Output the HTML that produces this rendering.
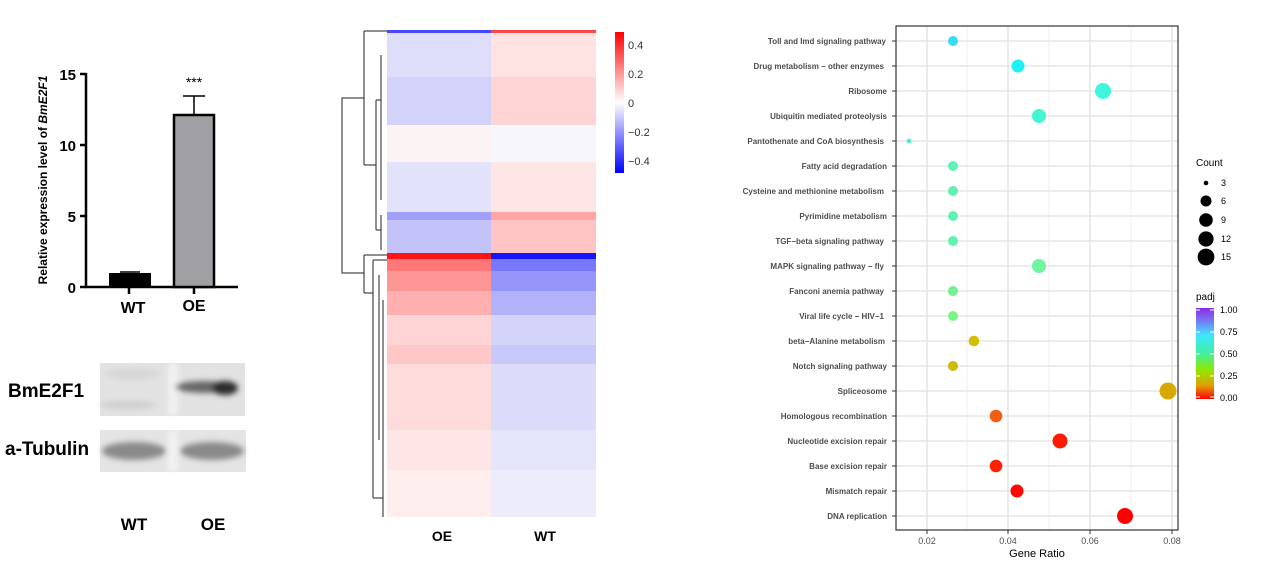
<!DOCTYPE html>
<html><head><meta charset="utf-8"><style>
html,body{margin:0;padding:0;background:#fff;}
svg{display:block;font-family:"Liberation Sans",Arial,sans-serif;}
</style></head><body>
<svg width="1269" height="572" viewBox="0 0 1269 572" xmlns="http://www.w3.org/2000/svg">
<defs>
<filter id="bl" x="-20%" y="-50%" width="140%" height="200%"><feGaussianBlur stdDeviation="3"/></filter>
<linearGradient id="cb" x1="0" y1="0" x2="0" y2="1">
<stop offset="0" stop-color="#ff0000"/><stop offset="0.5" stop-color="#ffffff"/><stop offset="1" stop-color="#0000ff"/></linearGradient>
<linearGradient id="pj" x1="0" y1="0" x2="0" y2="1">
<stop offset="0" stop-color="#8a2be2"/><stop offset="0.12" stop-color="#7a6cf0"/><stop offset="0.3" stop-color="#3fe6ff"/><stop offset="0.5" stop-color="#40f0a0"/><stop offset="0.68" stop-color="#90e800"/><stop offset="0.85" stop-color="#e0a000"/><stop offset="1" stop-color="#ff0000"/></linearGradient>
</defs>

<!-- Bar chart -->
<g stroke="#000" stroke-width="2.5" fill="none">
<line x1="86" y1="73" x2="86" y2="288"/>
<line x1="85" y1="287" x2="238" y2="287"/>
<line x1="80" y1="74" x2="86" y2="74"/><line x1="80" y1="145" x2="86" y2="145"/>
<line x1="80" y1="216" x2="86" y2="216"/><line x1="80" y1="287" x2="86" y2="287"/>
<line x1="129" y1="287" x2="129" y2="294"/><line x1="194" y1="287" x2="194" y2="294"/>
</g>
<rect x="109" y="273" width="42" height="14" fill="#000"/>
<line x1="120" y1="272" x2="140" y2="272" stroke="#000" stroke-width="1.5"/>
<rect x="174" y="115" width="40" height="172" fill="#a0a0a4" stroke="#000" stroke-width="2.5"/>
<line x1="194" y1="115" x2="194" y2="96" stroke="#000" stroke-width="1.5"/>
<line x1="183" y1="96" x2="205" y2="96" stroke="#000" stroke-width="1.5"/>
<text x="194" y="87" font-size="14" text-anchor="middle" fill="#000">***</text>
<g font-size="15" font-weight="bold" text-anchor="end" fill="#000">
<text x="76" y="80">15</text><text x="76" y="151">10</text><text x="76" y="222">5</text><text x="76" y="293">0</text></g>
<g font-size="16" font-weight="bold" text-anchor="middle" fill="#000">
<text x="133" y="313">WT</text><text x="194" y="311">OE</text></g>
<text transform="translate(47,180) rotate(-90)" font-size="12" font-weight="bold" text-anchor="middle" fill="#000">Relative expression level of <tspan font-style="italic">BmE2F1</tspan></text>

<!-- Western blot -->
<rect x="100" y="363" width="145" height="53" fill="#e2e2e2"/>
<rect x="100" y="430" width="146" height="42" fill="#e4e4e4"/>
<g filter="url(#bl)">
<rect x="168" y="364" width="10" height="51" fill="#f2f2f2"/>
<rect x="168" y="431" width="10" height="40" fill="#f2f2f2"/>
<ellipse cx="133" cy="374" rx="28" ry="5" fill="#d6d6d6"/>
<ellipse cx="128" cy="405" rx="28" ry="4" fill="#cecece"/>
<ellipse cx="205" cy="387" rx="30" ry="6" fill="#666"/>
<ellipse cx="225" cy="388" rx="13" ry="7" fill="#2a2a2a"/>
<ellipse cx="134" cy="451" rx="32" ry="9" fill="#8a8a8a"/>
<ellipse cx="212" cy="451" rx="32" ry="9" fill="#8a8a8a"/>
</g>
<g font-size="19" font-weight="bold" fill="#000">
<text x="8" y="397">BmE2F1</text><text x="5" y="455">a-Tubulin</text></g>
<g font-size="17" font-weight="bold" text-anchor="middle" fill="#000">
<text x="134" y="530">WT</text><text x="213" y="530">OE</text></g>

<!-- Heatmap -->
<g shape-rendering="crispEdges">
<rect x="387" y="30" width="104" height="3" fill="rgb(70,70,255)"/><rect x="491" y="30" width="105" height="3" fill="rgb(255,70,70)"/>
<rect x="387" y="33" width="104" height="44" fill="rgb(222,222,250)"/><rect x="491" y="33" width="105" height="44" fill="rgb(255,226,226)"/>
<rect x="387" y="77" width="104" height="48" fill="rgb(210,210,250)"/><rect x="491" y="77" width="105" height="48" fill="rgb(255,212,212)"/>
<rect x="387" y="125" width="104" height="37" fill="rgb(252,244,244)"/><rect x="491" y="125" width="105" height="37" fill="rgb(246,246,252)"/>
<rect x="387" y="162" width="104" height="50" fill="rgb(226,226,250)"/><rect x="491" y="162" width="105" height="50" fill="rgb(255,230,230)"/>
<rect x="387" y="212" width="104" height="8" fill="rgb(160,160,250)"/><rect x="491" y="212" width="105" height="8" fill="rgb(255,165,165)"/>
<rect x="387" y="220" width="104" height="33" fill="rgb(195,195,250)"/><rect x="491" y="220" width="105" height="33" fill="rgb(255,195,195)"/>
<rect x="387" y="253" width="104" height="6" fill="rgb(255,20,20)"/><rect x="491" y="253" width="105" height="6" fill="rgb(20,20,255)"/>
<rect x="387" y="259" width="104" height="12" fill="rgb(255,120,120)"/><rect x="491" y="259" width="105" height="12" fill="rgb(120,120,255)"/>
<rect x="387" y="271" width="104" height="20" fill="rgb(255,150,150)"/><rect x="491" y="271" width="105" height="20" fill="rgb(150,150,250)"/>
<rect x="387" y="291" width="104" height="24" fill="rgb(255,175,175)"/><rect x="491" y="291" width="105" height="24" fill="rgb(178,178,250)"/>
<rect x="387" y="315" width="104" height="30" fill="rgb(255,212,212)"/><rect x="491" y="315" width="105" height="30" fill="rgb(212,212,250)"/>
<rect x="387" y="345" width="104" height="19" fill="rgb(255,200,200)"/><rect x="491" y="345" width="105" height="19" fill="rgb(200,200,250)"/>
<rect x="387" y="364" width="104" height="66" fill="rgb(255,220,220)"/><rect x="491" y="364" width="105" height="66" fill="rgb(220,220,250)"/>
<rect x="387" y="430" width="104" height="40" fill="rgb(255,230,230)"/><rect x="491" y="430" width="105" height="40" fill="rgb(228,228,250)"/>
<rect x="387" y="470" width="104" height="47" fill="rgb(255,238,238)"/><rect x="491" y="470" width="105" height="47" fill="rgb(236,236,250)"/>
</g>
<!-- dendrogram -->
<g stroke="#222" stroke-width="1" fill="none">
<path d="M364,98 H342 V273 H364"/>
<path d="M364,31 V165 M364,31 H387 M364,165 H376"/>
<path d="M376,100 V230 M376,100 H381 M376,230 H381 M381,55 V200 M381,215 V250"/>
<path d="M364,255 V293 M364,255 H387 M364,293 H373"/>
<path d="M373,260 V498 M373,260 H387 M373,498 H383 M379,275 V440 M383,300 V517"/>
</g>
<g font-size="14" font-weight="bold" text-anchor="middle" fill="#000">
<text x="442" y="541">OE</text><text x="545" y="541">WT</text></g>
<rect x="615" y="32" width="9" height="141" fill="url(#cb)"/>
<g font-size="11" fill="#333">
<text x="628" y="49">0.4</text><text x="628" y="78">0.2</text><text x="628" y="107">0</text>
<text x="628" y="136">−0.2</text><text x="628" y="165">−0.4</text></g>

<!-- Dot plot -->
<rect x="896" y="26" width="282" height="504" fill="#fff"/>
<g stroke="#ebebeb" stroke-width="0.8">
<line x1="967" y1="26" x2="967" y2="530"/><line x1="1049" y1="26" x2="1049" y2="530"/><line x1="1131" y1="26" x2="1131" y2="530"/>
</g>
<g stroke="#e6e6e6" stroke-width="1.6">
<line x1="927" y1="26" x2="927" y2="530"/><line x1="1008" y1="26" x2="1008" y2="530"/><line x1="1090" y1="26" x2="1090" y2="530"/><line x1="1172" y1="26" x2="1172" y2="530"/>
<line x1="896" y1="41" x2="1178" y2="41"/><line x1="896" y1="66" x2="1178" y2="66"/><line x1="896" y1="91" x2="1178" y2="91"/><line x1="896" y1="116" x2="1178" y2="116"/><line x1="896" y1="141" x2="1178" y2="141"/><line x1="896" y1="166" x2="1178" y2="166"/><line x1="896" y1="191" x2="1178" y2="191"/><line x1="896" y1="216" x2="1178" y2="216"/><line x1="896" y1="241" x2="1178" y2="241"/><line x1="896" y1="266" x2="1178" y2="266"/><line x1="896" y1="291" x2="1178" y2="291"/><line x1="896" y1="316" x2="1178" y2="316"/><line x1="896" y1="341" x2="1178" y2="341"/><line x1="896" y1="366" x2="1178" y2="366"/><line x1="896" y1="391" x2="1178" y2="391"/><line x1="896" y1="416" x2="1178" y2="416"/><line x1="896" y1="441" x2="1178" y2="441"/><line x1="896" y1="466" x2="1178" y2="466"/><line x1="896" y1="491" x2="1178" y2="491"/><line x1="896" y1="516" x2="1178" y2="516"/>
</g>
<rect x="896" y="26" width="282" height="504" fill="none" stroke="#333" stroke-width="1.2"/>
<g stroke="#333" stroke-width="1">
<line x1="892" y1="41" x2="896" y2="41"/><line x1="892" y1="66" x2="896" y2="66"/><line x1="892" y1="91" x2="896" y2="91"/><line x1="892" y1="116" x2="896" y2="116"/><line x1="892" y1="141" x2="896" y2="141"/><line x1="892" y1="166" x2="896" y2="166"/><line x1="892" y1="191" x2="896" y2="191"/><line x1="892" y1="216" x2="896" y2="216"/><line x1="892" y1="241" x2="896" y2="241"/><line x1="892" y1="266" x2="896" y2="266"/><line x1="892" y1="291" x2="896" y2="291"/><line x1="892" y1="316" x2="896" y2="316"/><line x1="892" y1="341" x2="896" y2="341"/><line x1="892" y1="366" x2="896" y2="366"/><line x1="892" y1="391" x2="896" y2="391"/><line x1="892" y1="416" x2="896" y2="416"/><line x1="892" y1="441" x2="896" y2="441"/><line x1="892" y1="466" x2="896" y2="466"/><line x1="892" y1="491" x2="896" y2="491"/><line x1="892" y1="516" x2="896" y2="516"/>
<line x1="927" y1="530" x2="927" y2="534"/><line x1="1008" y1="530" x2="1008" y2="534"/><line x1="1090" y1="530" x2="1090" y2="534"/><line x1="1172" y1="530" x2="1172" y2="534"/>
</g>
<g font-size="8" font-weight="bold" fill="#4d4d4d" text-anchor="end">
<text x="886" y="44">Toll and Imd signaling pathway</text>
<text x="884" y="69">Drug metabolism − other enzymes</text>
<text x="887" y="94">Ribosome</text>
<text x="887" y="119">Ubiquitin mediated proteolysis</text>
<text x="884" y="144">Pantothenate and CoA biosynthesis</text>
<text x="887" y="169">Fatty acid degradation</text>
<text x="884" y="194">Cysteine and methionine metabolism</text>
<text x="887" y="219">Pyrimidine metabolism</text>
<text x="884" y="244">TGF−beta signaling pathway</text>
<text x="884" y="269">MAPK signaling pathway − fly</text>
<text x="884" y="294">Fanconi anemia pathway</text>
<text x="884" y="319">Viral life cycle − HIV−1</text>
<text x="885" y="344">beta−Alanine metabolism</text>
<text x="887" y="369">Notch signaling pathway</text>
<text x="887" y="394">Spliceosome</text>
<text x="887" y="419">Homologous recombination</text>
<text x="887" y="444">Nucleotide excision repair</text>
<text x="887" y="469">Base excision repair</text>
<text x="887" y="494">Mismatch repair</text>
<text x="887" y="519">DNA replication</text>
</g>
<g>
<circle cx="953" cy="41" r="5" fill="#36dcf5"/>
<circle cx="1018" cy="66" r="6.5" fill="#1ef0f5"/>
<circle cx="1103" cy="91" r="8" fill="#3ff5dc"/>
<circle cx="1039" cy="116" r="7" fill="#45f5d2"/>
<circle cx="909" cy="141" r="2.3" fill="#45f0d0"/>
<circle cx="953" cy="166" r="5" fill="#5ff2b5"/>
<circle cx="953" cy="191" r="5" fill="#5ff2b2"/>
<circle cx="953" cy="216" r="5" fill="#5ff2b2"/>
<circle cx="953" cy="241" r="5" fill="#60f2ae"/>
<circle cx="1039" cy="266" r="7" fill="#70f5a0"/>
<circle cx="953" cy="291" r="5" fill="#70f090"/>
<circle cx="953" cy="316" r="5" fill="#78f582"/>
<circle cx="974" cy="341" r="5.3" fill="#d2c000"/>
<circle cx="953" cy="366" r="5" fill="#d0b800"/>
<circle cx="1168" cy="391" r="8.5" fill="#d8a800"/>
<circle cx="996" cy="416" r="6.3" fill="#f06010"/>
<circle cx="1060" cy="441" r="7.5" fill="#ff1a00"/>
<circle cx="996" cy="466" r="6.3" fill="#ff2000"/>
<circle cx="1017" cy="491" r="6.5" fill="#ff0a00"/>
<circle cx="1125" cy="516" r="8" fill="#ff0000"/>
</g>
<g font-size="9" fill="#4d4d4d" text-anchor="middle">
<text x="927" y="544">0.02</text><text x="1008" y="544">0.04</text><text x="1090" y="544">0.06</text><text x="1172" y="544">0.08</text></g>
<text x="1037" y="557" font-size="11" fill="#000" text-anchor="middle">Gene Ratio</text>

<!-- legends -->
<g font-size="10" fill="#000">
<text x="1196" y="166">Count</text>
<text x="1196" y="300">padj</text></g>
<g fill="#000">
<circle cx="1206" cy="183" r="2.3"/><circle cx="1206" cy="201" r="5.5"/><circle cx="1206" cy="220" r="6.8"/><circle cx="1206" cy="239" r="7.6"/><circle cx="1206" cy="257" r="8.4"/></g>
<g font-size="9" fill="#000">
<text x="1221" y="186">3</text><text x="1221" y="204">6</text><text x="1221" y="223">9</text><text x="1221" y="242">12</text><text x="1221" y="260">15</text></g>
<rect x="1196" y="308" width="18" height="91" fill="url(#pj)"/>
<g stroke="#fff" stroke-width="1">
<line x1="1196" y1="310" x2="1200" y2="310"/><line x1="1210" y1="310" x2="1214" y2="310"/>
<line x1="1196" y1="332" x2="1200" y2="332"/><line x1="1210" y1="332" x2="1214" y2="332"/>
<line x1="1196" y1="354" x2="1200" y2="354"/><line x1="1210" y1="354" x2="1214" y2="354"/>
<line x1="1196" y1="376" x2="1200" y2="376"/><line x1="1210" y1="376" x2="1214" y2="376"/>
<line x1="1196" y1="397" x2="1200" y2="397"/><line x1="1210" y1="397" x2="1214" y2="397"/></g>
<g font-size="9" fill="#000">
<text x="1220" y="313">1.00</text><text x="1220" y="335">0.75</text><text x="1220" y="357">0.50</text><text x="1220" y="379">0.25</text><text x="1220" y="401">0.00</text></g>
</svg>
</body></html>
